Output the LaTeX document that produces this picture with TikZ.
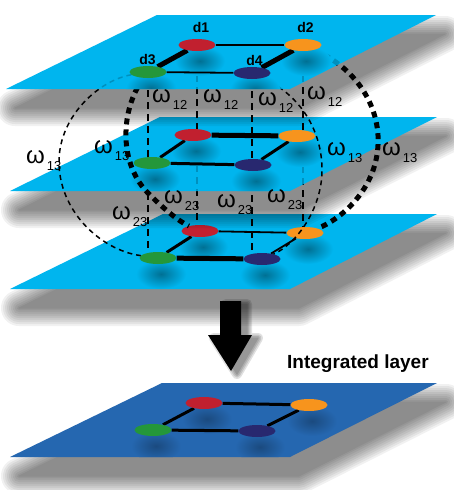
\documentclass[tikz,border=0pt]{standalone}
\usepackage{fontspec}
\setmainfont{Liberation Sans}
\usetikzlibrary{shapes.geometric}
\definecolor{planec}{HTML}{00B5EE}
\definecolor{intc}{HTML}{2567B0}
\definecolor{nred}{HTML}{C1202F}
\definecolor{norange}{HTML}{F7941D}
\definecolor{ngreen}{HTML}{24973A}
\definecolor{nnavy}{HTML}{28286F}
\tikzset{
  dnode/.style={ellipse,minimum width=37pt,minimum height=12pt,inner sep=0pt},
  nr/.style={dnode,fill=nred}, no/.style={dnode,fill=norange},
  ng/.style={dnode,fill=ngreen}, nn/.style={dnode,fill=nnavy},
  layerplane/.style={fill=planec},
  intplane/.style={fill=intc},
  ethick/.style={line width=5pt}, emed/.style={line width=3pt}, ethin/.style={line width=1.8pt},
  vdash/.style={line width=2.8pt,dash pattern=on 7pt off 5pt},
  bigarc/.style={line width=5pt,dash pattern=on 6pt off 5pt},
  thinarc/.style={line width=1.5pt,dash pattern=on 5pt off 4pt},
  faint/.style={opacity=0.2},
  blob/.style={inner color=black!38!planec,outer color=planec},
  iblob/.style={inner color=black!28!intc,outer color=intc},
  dlab/.style={font=\fontsize{14}{14}\selectfont\bfseries,inner sep=0pt,anchor=base},
  wlabel/.style={inner sep=0pt,anchor=base west},
  shadowring/.style={black,line join=round},
}
\newcommand{\wsub}[1]{{\fontsize{24}{24}\selectfont ω}\kern2pt\raisebox{-7.5pt}{\fontsize{13}{13}\selectfont #1}}
\newcommand{\blobat}[2]{\shade[#2,shift={(#1)}] (3,16) ellipse (25 and 15);}
% soft shadow of a four-corner plane: corners #1..#4 (top-left, top-right, bottom-right, bottom-left)
\newcommand{\softshadow}[4]{%
  \foreach \w in {36,32,28,24,20,16,12,8,4,1} {%
    \begin{scope}[transparency group,opacity=0.055]
      \path ([shift={(-30,-30)}]#4 |- #1) rectangle ([shift={(60,60)}]#2 |- #3);
      \filldraw[shadowring,line width=\w pt] ([shift={(9,19)}]#1) -- ([shift={(9,19)}]#2) -- ([shift={(9,19)}]#3) -- ([shift={(9,19)}]#4) -- cycle;
    \end{scope}}}
\newcommand{\crossarcs}[1]{%
  \draw[bigarc,#1] (d3) .. controls (120,110) and (118,165) .. (150,195) .. controls (165,210) and (180,222) .. (r3);
  \draw[thinarc,#1] (d3) .. controls (100,80) and (60,115) .. (59,160) .. controls (58,210) and (100,250) .. (g3);
  \draw[bigarc,#1] (d2) .. controls (360,70) and (380,110) .. (378,145) .. controls (376,190) and (340,220) .. (o3);
  \draw[thinarc,#1] (d4) .. controls (300,95) and (322,130) .. (322,170) .. controls (322,210) and (295,245) .. (n3);
}
\newcommand{\vertsA}[1]{%
  \draw[vdash,#1] (d3) -- (d3 |- g2.north);
  \draw[vdash,#1] (d1) -- (d1 |- r2.north);
  \draw[vdash,#1] (d4) -- (d4 |- n2.north);
  \draw[vdash,#1] (d2) -- (d2 |- o2.north);
}
\newcommand{\vertsB}[1]{%
  \draw[vdash,#1] (d3 |- g2.south) -- (d3 |- g3.north);
  \draw[vdash,#1] (d1 |- r2.south) -- (d1 |- r3.north);
  \draw[vdash,#1] (d4 |- n2.south) -- (d4 |- n3.north);
  \draw[vdash,#1] (d2 |- o2.south) -- (d2 |- o3.north);
}
\begin{document}
\begin{tikzpicture}[x=1pt,y=-1pt]
\useasboundingbox (0,0) rectangle (454,490);
\fill[white] (0,0) rectangle (454,490);
% plane corners
\coordinate (A1) at (157,15); \coordinate (B1) at (436,15); \coordinate (C1) at (290,89); \coordinate (D1) at (6,89);
\coordinate (A2) at (160,117); \coordinate (B2) at (437,117); \coordinate (C2) at (290,191); \coordinate (D2) at (10,191);
\coordinate (A3) at (163,214); \coordinate (B3) at (437,214); \coordinate (C3) at (290,289); \coordinate (D3) at (10,289);
\coordinate (A4) at (162,383); \coordinate (B4) at (437,383); \coordinate (C4) at (290,457); \coordinate (D4) at (10,457);
% node positions (invisible, named)
\node[dnode] (d1) at (197,45) {};
\node[dnode] (d2) at (303,45) {};
\node[dnode] (d3) at (148,72) {};
\node[dnode] (d4) at (252,73) {};
\node[dnode] (r2) at (193,135) {};
\node[dnode] (o2) at (297,136) {};
\node[dnode] (g2) at (152,163) {};
\node[dnode] (n2) at (253,165) {};
\node[dnode] (r3) at (200,231) {};
\node[dnode] (o3) at (305,233) {};
\node[dnode] (g3) at (158,258) {};
\node[dnode] (n3) at (262,259) {};
\node[dnode] (r4) at (204,403) {};
\node[dnode] (o4) at (309,405) {};
\node[dnode] (g4) at (153,430) {};
\node[dnode] (n4) at (257,431) {};
% plane 3
\softshadow{A3}{B3}{C3}{D3}
\fill[layerplane] (A3) -- (B3) -- (C3) -- (D3) -- cycle;
\begin{scope}
\clip (A3) -- (B3) -- (C3) -- (D3) -- cycle;
\blobat{r3}{blob}\blobat{o3}{blob}\blobat{g3}{blob}\blobat{n3}{blob}
\end{scope}
\draw[ethin] (r3) -- (o3);
\draw[emed] (r3) -- (g3);
\draw[ethick] (g3) -- (n3);
\draw[ethin] (n3) -- (o3);
\vertsB{}
\node[nr] at (r3) {};
\node[no] at (o3) {};
\node[ng] at (g3) {};
\node[nn] at (n3) {};
% plane 2
\softshadow{A2}{B2}{C2}{D2}
\fill[layerplane] (A2) -- (B2) -- (C2) -- (D2) -- cycle;
\begin{scope}
\clip (A2) -- (B2) -- (C2) -- (D2) -- cycle;
\vertsB{faint}
\blobat{r2}{blob}\blobat{o2}{blob}\blobat{g2}{blob}\blobat{n2}{blob}
\end{scope}
\crossarcs{}
\vertsA{}
\draw[ethick] (r2) -- (o2);
\draw[emed] (r2) -- (g2);
\draw[emed] (g2) -- (n2);
\draw[emed] (n2) -- (o2);
\node[nr] at (r2) {};
\node[no] at (o2) {};
\node[ng] at (g2) {};
\node[nn] at (n2) {};
% plane 1
\softshadow{A1}{B1}{C1}{D1}
\fill[layerplane] (A1) -- (B1) -- (C1) -- (D1) -- cycle;
\begin{scope}
\clip (A1) -- (B1) -- (C1) -- (D1) -- cycle;
\crossarcs{faint}
\vertsA{faint}
\blobat{d1}{blob}\blobat{d2}{blob}\blobat{d3}{blob}\blobat{d4}{blob}
\end{scope}
\draw[ethin] (d1) -- (d2);
\draw[ethick] (d1) -- (d3);
\draw[ethin] (d3) -- (d4);
\draw[ethick] (d4) -- (d2);
\node[nr] at (d1) {};
\node[no] at (d2) {};
\node[ng] at (d3) {};
\node[nn] at (d4) {};
\node[dlab] (l1) at (201,32) {d1};
\node[dlab] (l2) at (305.5,32) {d2};
\node[dlab] (l3) at (147.5,64) {d3};
\node[dlab] (l4) at (254.5,65) {d4};
% omega labels
\node[wlabel] (w12a) at (152,102) {\wsub{12}};
\node[wlabel] (w12b) at (203,102) {\wsub{12}};
\node[wlabel] (w12c) at (258,105) {\wsub{12}};
\node[wlabel] (w12d) at (307,99) {\wsub{12}};
\node[wlabel] (w13a) at (26,163) {\wsub{13}};
\node[wlabel] (w13b) at (94,153) {\wsub{13}};
\node[wlabel] (w13c) at (327,155) {\wsub{13}};
\node[wlabel] (w13d) at (382,155) {\wsub{13}};
\node[wlabel] (w23a) at (112,219) {\wsub{23}};
\node[wlabel] (w23b) at (164,203) {\wsub{23}};
\node[wlabel] (w23c) at (217,207) {\wsub{23}};
\node[wlabel] (w23d) at (267,202) {\wsub{23}};
% arrow with soft shadow
\foreach \w in {10,7,4,1} {%
  \begin{scope}[transparency group,opacity=0.12]
    \path (195,290) rectangle (275,385);
    \filldraw[shadowring,line width=\w pt] (226,304) -- (247,304) -- (247,338) -- (258,338) -- (237,374) -- (214,338) -- (226,338) -- cycle;
  \end{scope}}
\fill[black] (220,301) -- (241,301) -- (241,335) -- (252,335) -- (231,371) -- (208,335) -- (220,335) -- cycle;
% integrated layer
\node[inner sep=0pt,anchor=base west,font=\fontsize{19}{19}\selectfont\bfseries] (intlab) at (287,368) {Integrated layer};
\softshadow{A4}{B4}{C4}{D4}
\fill[intplane] (A4) -- (B4) -- (C4) -- (D4) -- cycle;
\begin{scope}
\clip (A4) -- (B4) -- (C4) -- (D4) -- cycle;
\blobat{r4}{iblob}\blobat{o4}{iblob}\blobat{g4}{iblob}\blobat{n4}{iblob}
\end{scope}
\draw[emed] (r4) -- (o4);
\draw[emed] (r4) -- (g4);
\draw[emed] (g4) -- (n4);
\draw[emed] (n4) -- (o4);
\node[nr] at (r4) {};
\node[no] at (o4) {};
\node[ng] at (g4) {};
\node[nn] at (n4) {};
\end{tikzpicture}
\end{document}
